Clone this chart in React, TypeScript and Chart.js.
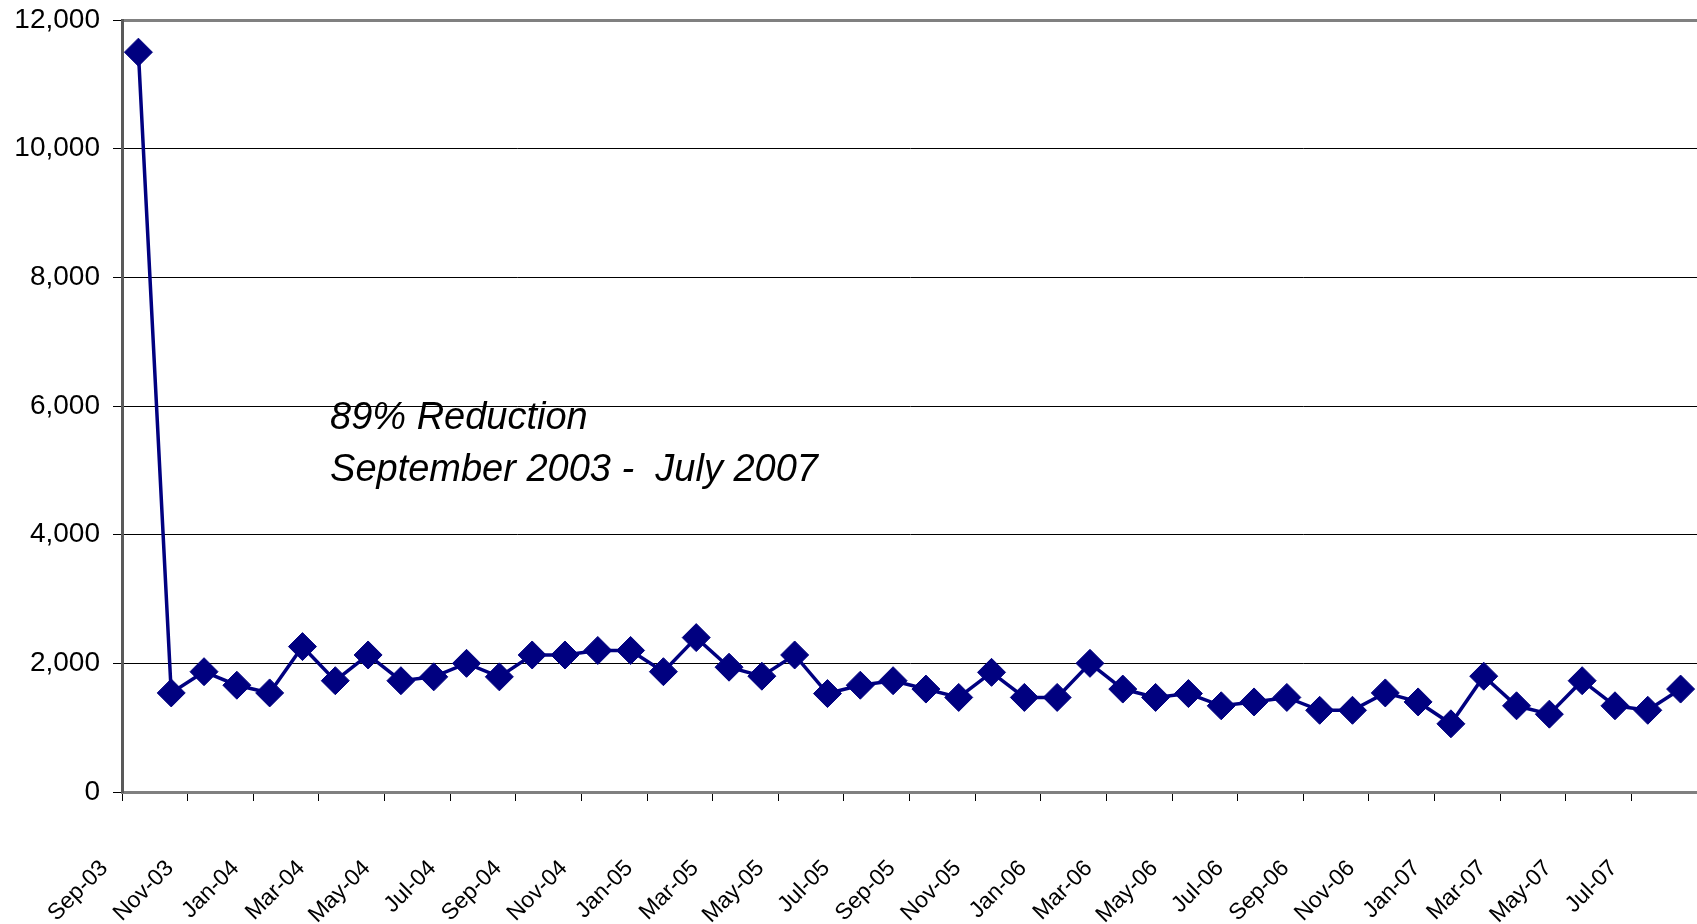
import React, { useEffect, useRef } from 'react';
import { Chart, registerables } from 'chart.js';

Chart.register(...registerables);

const CATEGORIES = [
  'Sep-03', 'Oct-03', 'Nov-03', 'Dec-03',
  'Jan-04', 'Feb-04', 'Mar-04', 'Apr-04', 'May-04', 'Jun-04', 'Jul-04', 'Aug-04', 'Sep-04', 'Oct-04', 'Nov-04', 'Dec-04',
  'Jan-05', 'Feb-05', 'Mar-05', 'Apr-05', 'May-05', 'Jun-05', 'Jul-05', 'Aug-05', 'Sep-05', 'Oct-05', 'Nov-05', 'Dec-05',
  'Jan-06', 'Feb-06', 'Mar-06', 'Apr-06', 'May-06', 'Jun-06', 'Jul-06', 'Aug-06', 'Sep-06', 'Oct-06', 'Nov-06', 'Dec-06',
  'Jan-07', 'Feb-07', 'Mar-07', 'Apr-07', 'May-07', 'Jun-07', 'Jul-07', 'Aug-07',
];

const VALUES = [
  11500, 1540, 1870, 1660, 1540, 2260, 1730, 2130, 1730, 1790, 2000, 1790,
  2130, 2130, 2200, 2200, 1870, 2400, 1940, 1800, 2130, 1530, 1660, 1730,
  1600, 1470, 1860, 1470, 1470, 2000, 1600, 1470, 1530, 1340, 1400, 1470,
  1270, 1270, 1540, 1400, 1060, 1800, 1340, 1210, 1730, 1340, 1270, 1600,
];

const Y_MIN = 0;
const Y_MAX = 12000;
const Y_STEP = 2000;

const ANNOTATION_LINES = ['89% Reduction', 'September 2003 -  July 2007'];
const ANNOTATION_X_INDEX = 5.84;
const ANNOTATION_Y_VALUES = [5640, 4830];

const NAVY = '#000080';
const FONT = '"Liberation Sans", Arial, Helvetica, sans-serif';

const annotationPlugin = {
  id: 'reductionNote',
  afterDraw(chart: any) {
    const { ctx, scales } = chart;
    const xs = scales.x;
    const ys = scales.y;
    ctx.save();
    ctx.fillStyle = '#000';
    ctx.font = `italic 38px ${FONT}`;
    ctx.textAlign = 'left';
    ctx.textBaseline = 'alphabetic';
    const px = xs.getPixelForValue(ANNOTATION_X_INDEX);
    ANNOTATION_LINES.forEach((line, i) => {
      ctx.fillText(line, px, ys.getPixelForValue(ANNOTATION_Y_VALUES[i]));
    });
    ctx.restore();
  },
};

export default function App() {
  const canvasRef = useRef<HTMLCanvasElement | null>(null);

  useEffect(() => {
    const canvas = canvasRef.current;
    if (!canvas) return;
    const chart = new Chart(canvas, {
      type: 'line',
      data: {
        labels: CATEGORIES,
        datasets: [
          {
            data: VALUES,
            borderColor: NAVY,
            backgroundColor: NAVY,
            borderWidth: 3.5,
            pointStyle: 'rectRot',
            pointRadius: 14,
            pointBorderWidth: 1,
            pointBackgroundColor: NAVY,
            pointBorderColor: NAVY,
            tension: 0,
            fill: false,
          },
        ],
      },
      options: {
        responsive: false,
        animation: false,
        events: [],
        layout: { padding: { left: 0, top: 20, right: 10, bottom: 0 } },
        plugins: {
          legend: { display: false },
          tooltip: { enabled: false },
          title: { display: false },
        },
        scales: {
          x: {
            type: 'category',
            offset: true,
            afterFit(scale: any) {
              scale.height = 132;
              scale.paddingLeft = 0;
              scale.paddingRight = 0;
            },
            grid: {
              display: true,
              offset: true,
              drawOnChartArea: false,
              drawTicks: true,
              tickLength: 9,
              color: (c: any) => (c.index % 2 === 0 ? '#000' : 'rgba(0,0,0,0)'),
              lineWidth: 1,
            },
            border: { display: true, color: '#808080', width: 3 },
            ticks: {
              autoSkip: false,
              maxRotation: 45,
              minRotation: 45,
              labelOffset: -34,
              padding: 54,
              color: '#000',
              font: { family: FONT, size: 23 },
              callback: (_v: any, i: number) => (i % 2 === 0 ? CATEGORIES[i] : ''),
            },
          },
          y: {
            min: Y_MIN,
            max: Y_MAX,
            afterFit(scale: any) {
              scale.width = 122;
              scale.paddingTop = 0;
              scale.paddingBottom = 0;
            },
            grid: {
              color: (c: any) => (c.tick && c.tick.value === Y_MAX ? '#808080' : '#000'),
              lineWidth: (c: any) => (c.tick && c.tick.value === Y_MAX ? 3 : 1),
              tickColor: '#000',
              tickLength: 9,
              tickWidth: 1,
            },
            border: { display: true, color: '#5a5a5a', width: 3 },
            ticks: {
              stepSize: Y_STEP,
              padding: 13,
              color: '#000',
              font: { family: FONT, size: 28 },
              callback: (v: any) => Number(v).toLocaleString('en-US'),
            },
          },
        },
      },
      plugins: [annotationPlugin],
    });
    return () => chart.destroy();
  }, []);

  return (
    <div
      style={{
        position: 'fixed',
        left: 0,
        top: 0,
        width: 1697,
        height: 924,
        overflow: 'hidden',
        background: '#fff',
      }}
    >
      <canvas ref={canvasRef} width={1712} height={924} style={{ display: 'block' }} />
    </div>
  );
}
